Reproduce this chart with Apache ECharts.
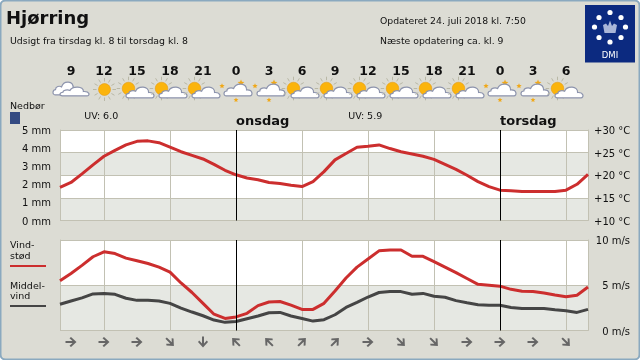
<!DOCTYPE html>
<html><head><meta charset="utf-8">
<style>html,body{margin:0;padding:0;background:#fff}#c{width:640px;height:360px}</style>
<script src="https://cdn.jsdelivr.net/npm/echarts@6/dist/echarts.min.js"></script>
</head><body><div id="c"></div>
<script>
const hours = [8,9,10,11,12,13,14,15,16,17,18,19,20,21,22,23,0,1,2,3,4,5,6,7,8,9,10,11,12,13,14,15,16,17,18,19,20,21,22,23,0,1,2,3,4,5,6,7,8];
const temperature = [17.3,18.4,20.3,22.3,24.2,25.5,26.7,27.5,27.6,27.2,26.2,25.2,24.4,23.6,22.4,21.1,20.1,19.4,19,18.4,18.2,17.8,17.5,18.6,20.8,23.4,24.8,26.2,26.4,26.7,25.9,25.2,24.7,24.2,23.5,22.4,21.3,20,18.6,17.5,16.7,16.6,16.4,16.4,16.4,16.4,16.7,18,20.2];
const gust = [5.5,6.3,7.2,8.15,8.7,8.5,8,7.7,7.4,7,6.45,5.25,4.2,3,1.8,1.33,1.5,1.9,2.75,3.15,3.2,2.8,2.33,2.33,3,4.37,5.8,7,7.9,8.8,8.9,8.9,8.2,8.2,7.6,7,6.4,5.75,5.1,5,4.9,4.55,4.33,4.3,4.15,3.93,3.74,3.9,4.8];
const meanWind = [2.9,3.26,3.6,4.04,4.1,4,3.56,3.33,3.33,3.26,3,2.48,2.04,1.63,1.15,0.9,1,1.3,1.6,1.96,2,1.6,1.33,1.04,1.2,1.74,2.55,3.1,3.7,4.2,4.3,4.3,4,4.1,3.78,3.67,3.3,3.07,2.85,2.78,2.78,2.55,2.44,2.44,2.44,2.3,2.18,2,2.33];
const iconIndex = [1,4,7,10,13,16,19,22,25,28,31,34,37,40,43,46];
const weather = ['cloud','sun','partly','partly','partly','night','night','partly','partly','partly','partly','partly','partly','night','night','partly'];
const windDirection = ['E','E','E','SE','S','NW','NW','NE','NE','E','SE','SE','E','E','E','SE'];
const dayMarks = [{index:16,name:'onsdag'},{index:40,name:'torsdag'}];
const uvLabels = [{text:'UV: 6.0',index:2.2},{text:'UV: 5.9',index:26.2}];

const FONT='"DejaVu Sans"', BG='#dcdcd4', GRID='#c2c1b3', BAND='#e6e8e3', RED='#cc2e2e', DARK='#454545';
const rot={E:0,SE:-45,S:-90,NW:135,NE:45};
const ARROW='path://M0 4H7L4 1.2L5.5 0L11 5L5.5 10L4 8.8L7 6H0Z';

function star(cx,cy,r){return {type:'polygon',shape:{points:[0,1,2,3,4,5,6,7,8,9].map(i=>{const a=-Math.PI/2+i*Math.PI/5,q=i%2?r*0.45:r;return [cx+q*Math.cos(a),cy+q*Math.sin(a)];})},style:{fill:'#f0a818'}};}
function cloudShape(x,y,w,h){
  const p=(a,b)=>`${x+a*w} ${y+b*h}`;
  return {type:'path',shape:{pathData:`M${p(.08,1)} C${p(-.03,1)} ${p(-.03,.62)} ${p(.1,.6)} C${p(.1,.35)} ${p(.26,.3)} ${p(.34,.4)} C${p(.42,-.1)} ${p(.82,-.1)} ${p(.8,.52)} C${p(1.03,.48)} ${p(1.03,1)} ${p(.92,1)} Z`,x,y,width:w,height:h},style:{fill:'#fff',stroke:'#8d94ad',lineWidth:1.2}};
}
function sun(cx,cy,r){
  const ch=[];
  for(let i=0;i<12;i++){const a=i*Math.PI/6;ch.push({type:'line',shape:{x1:cx+(r+2)*Math.cos(a),y1:cy+(r+2)*Math.sin(a),x2:cx+(r+5.5)*Math.cos(a),y2:cy+(r+5.5)*Math.sin(a)},style:{stroke:'#b9b8a6',lineWidth:1}});}
  ch.push({type:'circle',shape:{cx,cy,r},style:{fill:'#fbb40c',stroke:'#e69a10',lineWidth:0.6}});
  return ch;
}
function icon(type){
  if(type==='sun')return sun(0.5,-0.5,6);
  if(type==='cloud')return [cloudShape(-18,-8,25,13),cloudShape(-11,-3,29,9)];
  if(type==='partly')return [...sun(-8.5,-1.5,6.3),cloudShape(-11,-3,28,11)];
  return [star(-14,-4,2.8),star(5,-7,3.6),cloudShape(-12,-6,28,12),star(0,10,2.6)];
}
const common={type:'line',smooth:false,showSymbol:false,symbol:'none',silent:true,animation:false};
function dayLines(withLabel){return {silent:true,symbol:'none',animation:false,lineStyle:{color:'#000',width:1,type:'solid'},
  label:withLabel?{show:true,position:'end',formatter:'{b}',align:'left',verticalAlign:'bottom',fontFamily:FONT,fontWeight:'bold',fontSize:13,color:'#111',distance:2}:{show:false},
  data:dayMarks.map(d=>({xAxis:d.index,name:d.name}))};}
function xa(i,extra){return Object.assign({type:'category',gridIndex:i,data:hours,boundaryGap:false,axisLine:{show:false},axisTick:{show:false},axisLabel:{show:false},
  splitLine:{show:true,interval:(k)=>k%6===4,lineStyle:{color:GRID,width:1}}},extra||{});}
function ya(i,extra){return Object.assign({type:'value',gridIndex:i,axisTick:{show:false},splitLine:{show:false},axisLine:{show:true,lineStyle:{color:GRID,width:1}},
  axisLabel:{fontFamily:FONT,fontSize:10,color:'#111'}},extra);}
function txt(x,y,t,fs,w){return {type:'text',x,y,style:{text:t,fontFamily:FONT,fontSize:fs,fontWeight:w||'normal',fill:'#111',verticalAlign:'middle'},z:5};}
const dots=[[610,12.5],[621,17.5],[625.5,27],[621,37.5],[610,42],[599,37.5],[594.5,27],[599,17.5]];
const graphic=[
 {type:'rect',shape:{x:0.5,y:0.5,width:639,height:359,r:5},style:{fill:BG,stroke:'#8aa9bf',lineWidth:2},z:-10},
 txt(6,19,'Hjørring',18,'bold'),
 txt(10,41.5,'Udsigt fra tirsdag kl. 8 til torsdag kl. 8',9.4),
 txt(380,21.5,'Opdateret 24. juli 2018 kl. 7:50',9.3),
 txt(380,41.5,'Næste opdatering ca. kl. 9',9.3),
 txt(10,106.5,'Nedbør',9.5),
 {type:'rect',shape:{x:10,y:112,width:10,height:12},style:{fill:'#344a82'}},
 txt(10,246,'Vind-',9.5),txt(10,256.5,'stød',9.5),
 {type:'rect',shape:{x:10,y:265,width:36,height:2},style:{fill:RED}},
 txt(10,287,'Middel-',9.5),txt(10,297,'vind',9.5),
 {type:'rect',shape:{x:10,y:305,width:36,height:2},style:{fill:DARK}},
 ...uvLabels.map(u=>txt(60+11*u.index,116.5,u.text,9.5)),
 {type:'rect',shape:{x:585,y:5,width:50,height:57.5},style:{fill:'#0c2a80'},z:4},
 ...dots.map(d=>({type:'circle',shape:{cx:d[0],cy:d[1],r:2.6},style:{fill:'#fff'},z:5})),
 {type:'polygon',shape:{points:[[604.5,33],[603,25],[606,23.5],[608,26],[610,20.5],[612,26],[614,23.5],[617,25],[615.5,33]]},style:{fill:'#aab6d8'},z:5},
 {type:'text',x:610,y:55.5,style:{text:'DMI',fontFamily:FONT,fontSize:8.5,fill:'#fff',align:'center',verticalAlign:'middle'},z:5}
];
const labelY={fontFamily:FONT,fontSize:10,color:'#111',verticalAlign:'top',lineHeight:3};
const option={
 animation:false,textStyle:{fontFamily:FONT},graphic:{elements:graphic},
 grid:[{left:60,width:528,top:130,height:90.5},{left:60,width:528,top:240,height:90.5},{left:60,width:528,top:78,height:24,show:false},{left:60,width:528,top:335,height:14,show:false}],
 xAxis:[xa(0),xa(1),
  xa(2,{position:'top',splitLine:{show:false},axisLabel:{show:true,interval:(k)=>hours[k]%3===0,fontFamily:FONT,fontWeight:'bold',fontSize:12.5,color:'#111',margin:0}}),
  xa(3,{splitLine:{show:false}})],
 yAxis:[
  ya(0,{min:0,max:5,interval:1,position:'left',axisLabel:{...labelY,formatter:'{value} mm',margin:9}}),
  ya(0,{min:10,max:30,interval:5,position:'right',axisLabel:{...labelY,formatter:'+{value} °C',margin:6},
    splitLine:{show:true,lineStyle:{color:GRID,width:1}},splitArea:{show:true,areaStyle:{color:[BAND,'#fff']}}}),
  ya(1,{min:0,max:10,interval:10,position:'left',axisLabel:{show:false},splitLine:{show:false}}),
  ya(1,{min:0,max:10,interval:5,position:'right',axisLabel:{...labelY,formatter:'{value} m/s',align:'right',margin:42},
    splitLine:{show:true,lineStyle:{color:GRID,width:1}},splitArea:{show:true,areaStyle:{color:[BAND,'#fff']}}}),
  {type:'value',gridIndex:2,min:0,max:1,show:false},
  {type:'value',gridIndex:3,min:0,max:1,show:false}
 ],
 series:[
  Object.assign({},common,{name:'Temperatur',xAxisIndex:0,yAxisIndex:1,data:temperature,lineStyle:{color:RED,width:3},markLine:dayLines(true),z:3}),
  Object.assign({},common,{name:'Vindstød',xAxisIndex:1,yAxisIndex:3,data:gust,lineStyle:{color:RED,width:3},markLine:dayLines(false),z:3}),
  Object.assign({},common,{name:'Middelvind',xAxisIndex:1,yAxisIndex:3,data:meanWind,lineStyle:{color:DARK,width:3},z:3}),
  {type:'custom',xAxisIndex:2,yAxisIndex:4,silent:true,clip:false,animation:false,data:iconIndex.map((k,i)=>[k,0.5,weather[i]]),
   encode:{x:0,y:1},
   renderItem:(p,api)=>{const c=api.coord([api.value(0),0.5]);return {type:'group',x:c[0],y:c[1],children:icon(weather[p.dataIndex])};}},
  {type:'scatter',xAxisIndex:3,yAxisIndex:5,silent:true,animation:false,symbol:ARROW,symbolSize:[11,10],
   itemStyle:{color:'#666',opacity:1},data:iconIndex.map((k,i)=>({value:[k,0.5],symbolRotate:rot[windDirection[i]]}))}
 ]
};
echarts.init(document.getElementById('c'),null,{renderer:'canvas'}).setOption(option);
</script></body></html>
